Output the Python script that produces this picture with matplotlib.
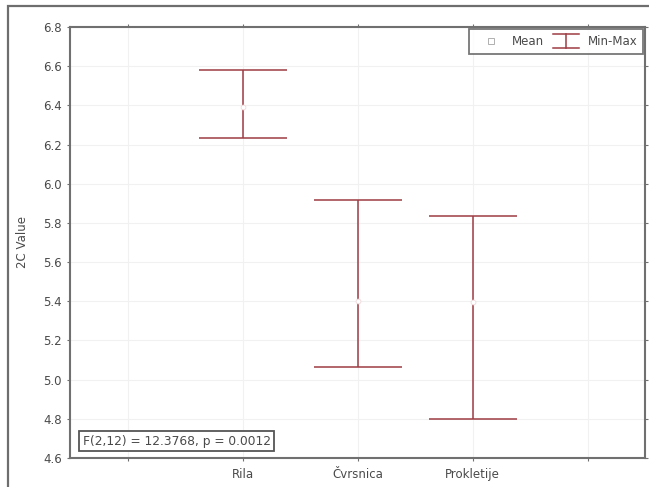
import matplotlib.pyplot as plt
from matplotlib.patches import Rectangle
from matplotlib.lines import Line2D
from matplotlib.legend_handler import HandlerBase

plt.rcParams['font.family'] = ['DejaVu Sans']

# category slots (Statistica leaves an empty slot at each end)
slot_labels = ["", "Rila", "Čvrsnica", "Prokletije", ""]
sites = ["Rila", "Čvrsnica", "Prokletije"]
means = [6.39, 5.40, 5.395]
mins = [6.235, 5.065, 4.80]
maxs = [6.58, 5.915, 5.835]
yticks = [4.6, 4.8, 5.0, 5.2, 5.4, 5.6, 5.8, 6.0, 6.2, 6.4, 6.6, 6.8]
stat_text = "F(2,12) = 12.3768, p = 0.0012"

red = "#9e3c44"
txt = "#4a4a4a"
fs = 8.5


class MinMaxHandler(HandlerBase):
    # little whisker symbol for the legend: vertical bar with two caps
    def create_artists(self, legend, orig_handle, xdescent, ydescent,
                       width, height, fontsize, trans):
        cx = width / 2 - xdescent
        half = width * 0.42
        y0 = -ydescent - height * 0.35
        y1 = -ydescent + height * 1.25
        kw = dict(color=red, linewidth=1.1, transform=trans)
        return [Line2D([cx, cx], [y0, y1], **kw),
                Line2D([cx - half, cx + half], [y0, y0], **kw),
                Line2D([cx - half, cx + half], [y1, y1], **kw)]


fig = plt.figure(figsize=(6.49, 4.87), dpi=100)
ax = fig.add_axes([70 / 649, 1 - 458 / 487, 575 / 649, 431 / 487])

# outer frame of the exported graph window
fig.patches.append(Rectangle((8 / 649, -0.05), 1.0, 1 - 6 / 487 + 0.05,
                             transform=fig.transFigure, fill=False,
                             edgecolor="#6e6e6e", linewidth=1.6))

xpos = [slot_labels.index(s) for s in sites]
lower = [m - lo for m, lo in zip(means, mins)]
upper = [hi - m for m, hi in zip(means, maxs)]

ax.errorbar(xpos, means, yerr=[lower, upper], fmt="none", ecolor=red,
            elinewidth=1.1, capsize=32, capthick=1.1, zorder=3)
ax.plot(xpos, means, linestyle="none", marker="o", markersize=3.5,
        markerfacecolor="white", markeredgecolor="#f2d8da", markeredgewidth=0.6,
        zorder=4)

mean_proxy = Line2D([], [], linestyle="none", marker="s", markersize=4,
                    markerfacecolor="white", markeredgecolor="#b0b0b0",
                    markeredgewidth=0.7)
minmax_proxy = Line2D([], [], color=red)

ax.set_xlim(-0.5, len(slot_labels) - 0.5)
ax.set_ylim(4.6, 6.8)
ax.set_xticks(range(len(slot_labels)))
ax.set_xticklabels(slot_labels)
ax.set_yticks(yticks)
ax.set_yticklabels([f"{v:.1f}" for v in yticks])
ax.tick_params(axis="both", labelsize=fs, labelcolor=txt, color="#707070",
               length=2, width=0.8, top=True, right=True, direction="out")
ax.tick_params(axis="y", pad=4)
ax.tick_params(axis="x", pad=5)
ax.grid(True, color="#f1f1f1", linewidth=0.8)
ax.set_axisbelow(True)
for sp in ax.spines.values():
    sp.set_color("#707070")
    sp.set_linewidth(1.5)

ax.set_ylabel("2C Value", fontsize=fs, color=txt, labelpad=10)

leg = ax.legend([mean_proxy, minmax_proxy], ["Mean", "Min-Max"],
                handler_map={minmax_proxy: MinMaxHandler()},
                loc="upper right", ncol=2, fontsize=fs, frameon=True,
                fancybox=False, edgecolor="#555555", borderaxespad=0.15,
                handlelength=2.6, columnspacing=0.6, handletextpad=0.5,
                borderpad=0.5)
leg.get_frame().set_linewidth(1.3)
for t in leg.get_texts():
    t.set_color(txt)

ax.text(0.022, 0.024, stat_text, transform=ax.transAxes, fontsize=8.8,
        color=txt, ha="left", va="bottom",
        bbox=dict(boxstyle="square,pad=0.3", facecolor="white",
                  edgecolor="#555555", linewidth=1.3))

fig.savefig("out.png", dpi=100)
